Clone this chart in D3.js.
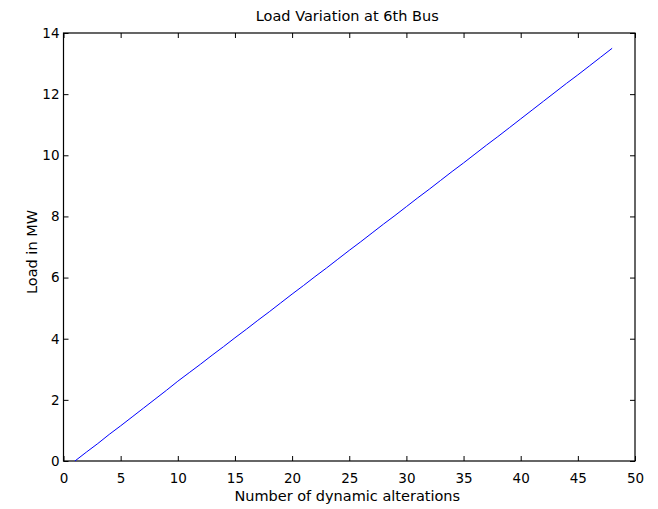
<!DOCTYPE html>
<html><head><meta charset="utf-8">
<script src="https://cdn.jsdelivr.net/npm/d3@7"></script>
<style>body{margin:0;background:#fff}svg{display:block}text{font-family:"DejaVu Sans",sans-serif;fill:#000}</style>
</head><body>
<script>
const xValues = [1,2,3,4,5,6,7,8,9,10,11,12,13,14,15,16,17,18,19,20,21,22,23,24,25,26,27,28,29,30,31,32,33,34,35,36,37,38,39,40,41,42,43,44,45,46,47,48];
const loadValues = [0,0.29,0.57,0.87,1.15,1.44,1.73,2.02,2.31,2.61,2.89,3.17,3.46,3.74,4.03,4.31,4.60,4.88,5.17,5.46,5.74,6.03,6.31,6.60,6.89,7.17,7.46,7.75,8.03,8.32,8.61,8.89,9.18,9.47,9.75,10.04,10.33,10.61,10.90,11.19,11.48,11.77,12.06,12.35,12.63,12.92,13.21,13.50];
const xTicks = [0,5,10,15,20,25,30,35,40,45,50];
const yTicks = [0,2,4,6,8,10,12,14];
const title = "Load Variation at 6th Bus";
const xLabel = "Number of dynamic alterations";
const yLabel = "Load in MW";

const W=658,H=509, L=63.5, R=635, T=33, B=461;
const svg=d3.select("body").append("svg").attr("width",W).attr("height",H);
const x=d3.scaleLinear().domain([0,50]).range([L,R]);
const y=d3.scaleLinear().domain([0,14]).range([B,T]);
const fs=13.5, lfs=14.5, tk=5;

svg.append("g").attr("transform",`translate(0,${B})`)
 .call(d3.axisBottom(x).tickValues(xTicks).tickSize(-tk).tickPadding(12))
 .call(g=>{g.select(".domain").remove();g.selectAll("text").attr("font-size",fs).attr("font-family",null).attr("dy","0.71em");});
svg.append("g").attr("transform",`translate(0,${T})`)
 .call(d3.axisTop(x).tickValues(xTicks).tickSize(-tk).tickFormat(""))
 .call(g=>g.select(".domain").remove());
svg.append("g").attr("transform",`translate(${L},0)`)
 .call(d3.axisLeft(y).tickValues(yTicks).tickSize(-tk).tickPadding(4))
 .call(g=>{g.select(".domain").remove();g.selectAll("text").attr("font-size",fs).attr("font-family",null);});
svg.append("g").attr("transform",`translate(${R},0)`)
 .call(d3.axisRight(y).tickValues(yTicks).tickSize(-tk).tickFormat(""))
 .call(g=>g.select(".domain").remove());
svg.selectAll(".tick line").attr("stroke","#000");
svg.selectAll("g text").style("fill","#000");

svg.append("rect").attr("x",L).attr("y",T).attr("width",R-L).attr("height",B-T)
 .attr("fill","none").attr("stroke","#000").attr("stroke-width",1.2);

const line=d3.line().x((d,i)=>x(xValues[i])).y(d=>y(d));
svg.append("path").datum(loadValues).attr("d",line).attr("fill","none").attr("stroke","#0000ff").attr("stroke-width",1);

svg.append("text").attr("x",(L+R)/2-2).attr("y",21).attr("text-anchor","middle").attr("font-size",lfs).text(title);
svg.append("text").attr("x",(L+R)/2-2).attr("y",501).attr("text-anchor","middle").attr("font-size",lfs).text(xLabel);
svg.append("text").attr("transform",`translate(37,252) rotate(-90)`).attr("text-anchor","middle").attr("font-size",lfs).text(yLabel);
</script>
</body></html>
